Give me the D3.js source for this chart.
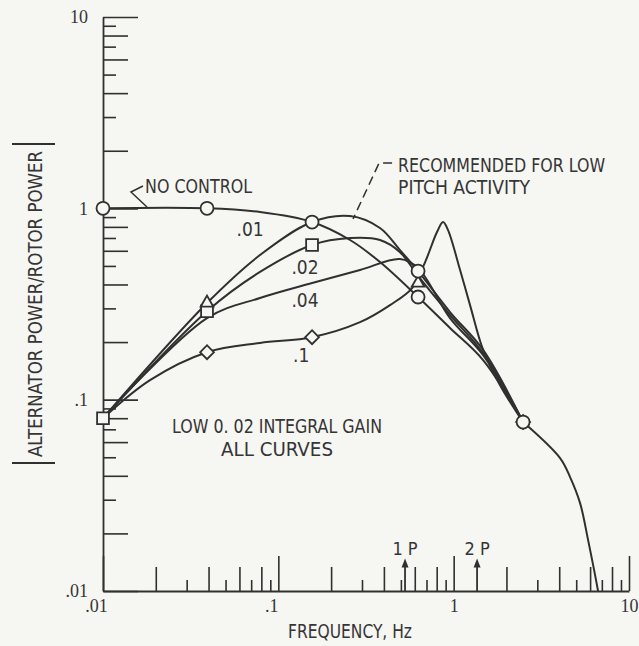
<!DOCTYPE html>
<html>
<head>
<meta charset="utf-8">
<script src="https://cdn.jsdelivr.net/npm/d3@7"></script>
<style>
  body { margin: 0; background: #f6f6f3; }
  svg { display: block; }
  .lbl { font-family: "Liberation Sans Narrow", "DejaVu Sans Condensed", sans-serif; fill: #353535; }
  .tick text { font-family: "Liberation Serif", "DejaVu Serif", serif; fill: #353535; }
</style>
</head>
<body>
<svg id="chart"></svg>
<script>
// axis ticks
const freqTicks = [0.01, 0.1, 1, 10];
const freqLabels = [".01", ".1", "1", "10"];
const ratioTicks = [0.01, 0.1, 1, 10];
const ratioLabels = [".01", ".1", "1", "10"];

// curves, [frequency Hz, |alternator power / rotor power|]
const noControl = [[0.01, 1.0], [0.0392, 1.0], [0.0786, 0.956], [0.1557, 0.848], [0.2565, 0.683],
  [0.380, 0.524], [0.6266, 0.344], [0.953, 0.237], [1.472, 0.161], [2.489, 0.0764]];
const gain01 = [[0.01, 0.080], [0.0392, 0.320], [0.0786, 0.570], [0.1557, 0.848], [0.2565, 0.911],
  [0.380, 0.789], [0.4942, 0.605], [0.6266, 0.470], [0.953, 0.287], [1.472, 0.182], [2.489, 0.0764]];
const gain02 = [[0.01, 0.080], [0.0392, 0.290], [0.0786, 0.465], [0.1557, 0.643], [0.2565, 0.699],
  [0.380, 0.683], [0.4942, 0.590], [0.6266, 0.443], [0.953, 0.277], [1.472, 0.175], [2.489, 0.0764]];
const gain04 = [[0.01, 0.080], [0.0392, 0.267], [0.0786, 0.340], [0.1557, 0.407], [0.2924, 0.476],
  [0.4942, 0.543], [0.6266, 0.487], [0.953, 0.267], [1.472, 0.171], [2.489, 0.0764]];
const gain1 = [[0.01, 0.080], [0.01854, 0.1265], [0.0392, 0.177], [0.0786, 0.198], [0.1557, 0.212],
  [0.2924, 0.254], [0.4334, 0.312], [0.5795, 0.383], [0.6874, 0.524], [0.8036, 0.752], [0.870, 0.848],
  [0.9289, 0.770], [1.088, 0.476], [1.240, 0.312], [1.472, 0.182], [1.839, 0.119], [2.489, 0.0764]];
// common high-frequency roll-off
const rollOff = [[2.489, 0.0764], [4.045, 0.0495], [4.613, 0.0394], [5.26, 0.0288], [5.845, 0.01845],
  [6.66, 0.01], [7.02, 0.00748]];

// markers
const circleMarks = [[0.01, 1.0], [0.0392, 1.0], [0.1557, 0.848], [0.6266, 0.470], [0.6266, 0.344], [2.489, 0.0764]];
const squareMarks = [[0.01, 0.080], [0.0392, 0.290], [0.1557, 0.643]];
const triangleMarks = [[0.0392, 0.320], [0.6266, 0.407]];
const diamondMarks = [[0.0392, 0.177], [0.1557, 0.212], [2.489, 0.0764]];

// once-per-rev / twice-per-rev frequencies
const rotorFreqs = [0.528, 1.36];
const rotorLabels = ["1 P", "2 P"];

const W = 639, H = 646;
const ink = "#303030", paper = "#f6f6f3";

const svg = d3.select("#chart").attr("width", W).attr("height", H);

const x = d3.scaleLog().domain([0.01, 10]).range([103, 629]);
const y = d3.scaleLog().domain([0.01, 10]).range([591, 17]);

// minor ticks 2..9 in each decade
const minorLong = [], minorShort = [];
[0.01, 0.1, 1].forEach(d => {
  for (let k = 2; k <= 9; k++) (k % 2 === 0 ? minorLong : minorShort).push(k * d);
});

function styleAxis(g) {
  g.selectAll("line").attr("stroke", ink).attr("stroke-width", 1.6);
  g.select(".domain").attr("stroke", ink).attr("stroke-width", 1.8);
  g.selectAll("text").attr("font-size", 18);
}

// x axis
const xG = svg.append("g").attr("transform", `translate(0,${y(0.01)})`);
xG.call(d3.axisBottom(x).tickValues(freqTicks).tickFormat((d, i) => freqLabels[i])
  .tickSize(-35).tickSizeOuter(0).tickPadding(8)).call(styleAxis);
xG.selectAll(".tick text").attr("dx", d => d < 1 ? -7 : 0);
svg.append("g").attr("transform", `translate(0,${y(0.01)})`)
  .call(d3.axisBottom(x).tickValues(minorLong).tickFormat("").tickSize(-24)).call(styleAxis)
  .select(".domain").remove();
svg.append("g").attr("transform", `translate(0,${y(0.01)})`)
  .call(d3.axisBottom(x).tickValues(minorShort).tickFormat("").tickSize(-11)).call(styleAxis)
  .select(".domain").remove();

// y axis
const yG = svg.append("g").attr("transform", `translate(${x(0.01)},0)`);
yG.call(d3.axisLeft(y).tickValues(ratioTicks).tickFormat((d, i) => ratioLabels[i])
  .tickSize(-35).tickSizeOuter(0).tickPadding(15)).call(styleAxis);
svg.append("g").attr("transform", `translate(${x(0.01)},0)`)
  .call(d3.axisLeft(y).tickValues(minorLong).tickFormat("").tickSize(-25)).call(styleAxis)
  .select(".domain").remove();
svg.append("g").attr("transform", `translate(${x(0.01)},0)`)
  .call(d3.axisLeft(y).tickValues(minorShort).tickFormat("").tickSize(-13)).call(styleAxis)
  .select(".domain").remove();

// axis titles
svg.append("text").attr("class", "lbl")
  .attr("x", 350).attr("y", 638).attr("text-anchor", "middle")
  .attr("font-size", 19).attr("textLength", 124).attr("lengthAdjust", "spacingAndGlyphs")
  .text("FREQUENCY, Hz");
svg.append("text").attr("class", "lbl")
  .attr("transform", "translate(42,304) rotate(-90)").attr("text-anchor", "middle")
  .attr("font-size", 19).attr("textLength", 306).attr("lengthAdjust", "spacingAndGlyphs")
  .text("ALTERNATOR POWER/ROTOR POWER");
[144, 463].forEach(yy => {
  svg.append("line").attr("x1", 12).attr("x2", 55).attr("y1", yy).attr("y2", yy)
    .attr("stroke", ink).attr("stroke-width", 1.8);
});

// curves
svg.append("clipPath").attr("id", "plot").append("rect")
  .attr("x", x(0.01) - 10).attr("y", y(10)).attr("width", x(10) - x(0.01) + 10).attr("height", y(0.01) - y(10));

const line = d3.line().x(d => x(d[0])).y(d => y(d[1])).curve(d3.curveCatmullRom.alpha(0.5));
const curves = svg.append("g").attr("clip-path", "url(#plot)");
[noControl, gain01, gain02, gain04, gain1, rollOff].forEach(s => {
  curves.append("path").datum(s).attr("d", line)
    .attr("fill", "none").attr("stroke", ink).attr("stroke-width", 2).attr("stroke-linejoin", "round");
});

// markers
const marks = svg.append("g").attr("fill", paper).attr("stroke", ink).attr("stroke-width", 1.8);
marks.selectAll(".sq").data(squareMarks).join("path")
  .attr("transform", d => `translate(${x(d[0])},${y(d[1])})`)
  .attr("d", d3.symbol().type(d3.symbolSquare).size(140));
marks.selectAll(".tri").data(triangleMarks).join("path")
  .attr("transform", d => `translate(${x(d[0])},${y(d[1])})`)
  .attr("d", d3.symbol().type(d3.symbolTriangle).size(70));
marks.selectAll(".dia").data(diamondMarks).join("path")
  .attr("transform", d => `translate(${x(d[0])},${y(d[1])}) rotate(45)`)
  .attr("d", d3.symbol().type(d3.symbolSquare).size(95));
marks.selectAll("circle").data(circleMarks).join("circle")
  .attr("cx", d => x(d[0])).attr("cy", d => y(d[1])).attr("r", 6.5);

// curve labels
const curveLabels = [
  { t: ".01", f: 0.069, r: 0.716 },
  { t: ".02", f: 0.142, r: 0.454 },
  { t: ".04", f: 0.142, r: 0.305 },
  { t: ".1", f: 0.135, r: 0.157 }
];
svg.selectAll(".clbl").data(curveLabels).join("text").attr("class", "lbl")
  .attr("x", d => x(d.f)).attr("y", d => y(d.r)).attr("text-anchor", "middle")
  .attr("font-size", 19).text(d => d.t);

// annotations
svg.append("text").attr("class", "lbl").attr("x", x(0.01737)).attr("y", y(1.202))
  .attr("font-size", 19).attr("textLength", 107).attr("lengthAdjust", "spacingAndGlyphs").text("NO CONTROL");
svg.append("path").datum([[0.0169, 1.308], [0.01444, 1.217], [0.01782, 1.016]])
  .attr("d", d3.line().x(d => x(d[0])).y(d => y(d[1])))
  .attr("fill", "none").attr("stroke", ink).attr("stroke-width", 1.5);

svg.append("text").attr("class", "lbl").attr("x", x(0.482)).attr("y", y(1.548))
  .attr("font-size", 19).attr("textLength", 207).attr("lengthAdjust", "spacingAndGlyphs").text("RECOMMENDED FOR LOW");
svg.append("text").attr("class", "lbl").attr("x", x(0.482)).attr("y", y(1.188))
  .attr("font-size", 19).attr("textLength", 132).attr("lengthAdjust", "spacingAndGlyphs").text("PITCH ACTIVITY");
svg.append("path").datum([[0.4454, 1.725], [0.3755, 1.725], [0.2667, 0.879]])
  .attr("d", d3.line().x(d => x(d[0])).y(d => y(d[1])))
  .attr("fill", "none").attr("stroke", ink).attr("stroke-width", 1.5).attr("stroke-dasharray", "9,5");

svg.append("text").attr("class", "lbl").attr("x", x(0.0983)).attr("y", y(0.0669)).attr("text-anchor", "middle")
  .attr("font-size", 19).attr("textLength", 210).attr("lengthAdjust", "spacingAndGlyphs").text("LOW 0. 02 INTEGRAL GAIN");
svg.append("text").attr("class", "lbl").attr("x", x(0.0983)).attr("y", y(0.0507)).attr("text-anchor", "middle")
  .attr("font-size", 19).attr("textLength", 112).attr("lengthAdjust", "spacingAndGlyphs").text("ALL CURVES");

// 1P / 2P arrows
const tip = y(0.0148);
rotorFreqs.forEach((f, i) => {
  const cx = x(f);
  svg.append("line").attr("x1", cx).attr("x2", cx).attr("y1", y(0.01)).attr("y2", tip + 6)
    .attr("stroke", ink).attr("stroke-width", 1.8);
  svg.append("path").attr("d", `M${cx},${tip}L${cx - 3.5},${tip + 9}L${cx + 3.5},${tip + 9}Z`).attr("fill", ink);
  svg.append("text").attr("class", "lbl").attr("x", cx).attr("y", tip - 3).attr("text-anchor", "middle")
    .attr("font-size", 18).text(rotorLabels[i]);
});
</script>
</body>
</html>
